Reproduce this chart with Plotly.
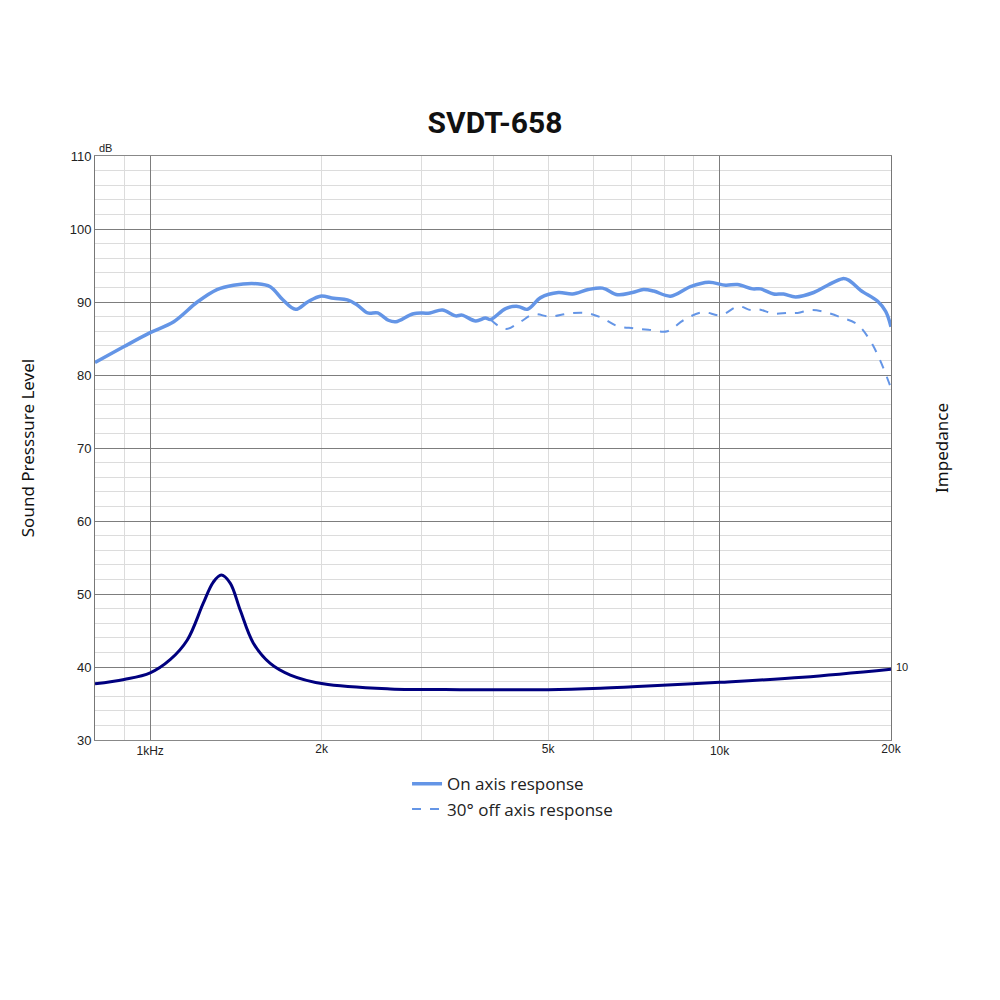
import numpy as np
import plotly.graph_objects as go

# on axis response (Hz, dB)
on_freq = [800, 900, 1000, 1100, 1210, 1310, 1400, 1540, 1625, 1710, 1800, 1890,
           1990, 2100, 2220, 2310, 2410, 2510, 2620, 2700, 2900, 3100, 3260, 3440,
           3530, 3730, 3880, 3960, 4210, 4420, 4600, 4850, 5210, 5520, 5880, 6230,
           6620, 7030, 7350, 7660, 8200, 8890, 9570, 10250, 10750, 11430, 11800,
           12440, 12950, 13600, 14630, 15480, 16450, 16850, 17690, 18950, 19580, 20000]
on_spl = [81.7, 83.9, 85.8, 87.3, 90.0, 91.7, 92.3, 92.5, 92.1, 90.3, 89.0, 90.0,
          90.8, 90.5, 90.3, 89.6, 88.5, 88.5, 87.5, 87.3, 88.4, 88.5, 88.9, 88.1,
          88.2, 87.4, 87.8, 87.6, 89.1, 89.4, 89.0, 90.6, 91.3, 91.1, 91.7, 91.9,
          91.0, 91.3, 91.7, 91.5, 90.8, 92.1, 92.7, 92.3, 92.4, 91.8, 91.8,
          91.1, 91.1, 90.7, 91.3, 92.3, 93.2, 93.0, 91.6, 90.1, 88.7, 86.6]

# 30 deg off axis (only where it leaves the on axis curve)
off_freq = [3960, 4210, 4470, 4710, 5050, 5410, 5810, 6180, 6620, 7060, 7500, 8100,
            8640, 9340, 10040, 10800, 11340, 11710, 12440, 13170, 13710, 14450,
            15170, 16320, 17480, 18420, 19190, 20000]
off_spl = [87.6, 86.3, 87.3, 88.3, 88.0, 88.4, 88.5, 87.9, 86.7, 86.4, 86.2, 86.0,
           87.5, 88.6, 88.2, 89.4, 88.9, 89.0, 88.4, 88.5, 88.5, 88.9,
           88.7, 87.9, 86.9, 84.6, 81.8, 78.2]

# impedance (ohm)
imp_freq = [800, 900, 1000, 1084, 1162, 1239, 1290, 1333, 1382, 1439, 1517, 1625,
            1763, 2013, 2640, 3500, 5000, 6180, 7030, 10000, 14000, 20000]
imp_ohm = [7.7, 8.3, 9.2, 11.0, 13.7, 18.7, 21.6, 22.6, 21.5, 17.8, 13.3, 10.5,
           8.9, 7.7, 7.0, 6.9, 6.9, 7.1, 7.3, 7.9, 8.6, 9.7]

x_major = [1000, 10000]
x_major_text = ["1kHz", "10k"]
x_minor = [900, 2000, 3000, 4000, 5000, 6000, 7000, 8000, 9000]
x_extra = [2000, 5000, 20000]
x_extra_text = ["2k", "5k", "20k"]

blue = "#6495e6"
navy = "#00007f"
dark_grid = "#7d7d7d"
light_grid = "#dcdcdc"
xr = [np.log10(800), np.log10(20000)]

fig = go.Figure()
fig.add_trace(go.Scatter(x=on_freq, y=on_spl, name="On axis response",
                         mode="lines", line=dict(color=blue, width=3.5, shape="spline")))
fig.add_trace(go.Scatter(x=off_freq, y=off_spl, name="30\u00b0 off axis response",
                         mode="lines", line=dict(color=blue, width=2, dash="dash", shape="spline")))
fig.add_trace(go.Scatter(x=imp_freq, y=imp_ohm, name="Impedance", showlegend=False,
                         xaxis="x2", yaxis="y2",
                         mode="lines", line=dict(color=navy, width=3, shape="spline")))

tick_font = dict(family="Liberation Sans", size=12, color="#222")

fig.update_layout(
    width=1000, height=1000,
    margin=dict(l=87, r=117, t=148, b=268),
    paper_bgcolor="white", plot_bgcolor="white",
    title=dict(text="<b>SVDT-658</b>", x=0.487, xanchor="center",
               y=0.886, yanchor="middle", yref="container",
               font=dict(family="Roboto", size=30, color="#111")),
    xaxis=dict(type="log", range=xr, tickvals=x_major, ticktext=x_major_text,
               showgrid=True, gridcolor=dark_grid, gridwidth=1,
               minor=dict(tickvals=x_minor, showgrid=True, gridcolor=light_grid, ticks=""),
               showline=True, linecolor="#888", mirror=True, ticks="",
               tickfont=tick_font, zeroline=False),
    xaxis2=dict(type="log", range=xr, overlaying="x", anchor="y2", side="bottom",
                tickvals=x_extra, ticktext=x_extra_text, showgrid=False, ticks="",
                tickfont=tick_font, showline=False, zeroline=False),
    yaxis=dict(range=[30, 110], tickvals=list(range(30, 111, 10)),
               showgrid=True, gridcolor=dark_grid, gridwidth=1,
               minor=dict(dtick=2, showgrid=True, gridcolor=light_grid, ticks=""),
               showline=True, linecolor="#777", mirror=True, ticks="",
               tickfont=dict(family="Liberation Sans", size=13, color="#222"),
               zeroline=False,
               title=dict(text="Sound Presssure Level", standoff=30,
                          font=dict(family="Noto Sans", size=17, color="#111"))),
    yaxis2=dict(range=[0, 80], overlaying="y", side="right", anchor="x2",
                tickvals=[10], ticktext=["10"], showgrid=False, ticks="",
                ticklabelstandoff=4,
                tickfont=dict(family="Liberation Sans", size=11, color="#222"),
                zeroline=False,
                title=dict(text="Impedance", standoff=28,
                           font=dict(family="Noto Sans", size=17, color="#111"))),
    legend=dict(x=0.392, y=-0.045, xanchor="left", yanchor="top",
                orientation="v", itemwidth=30, tracegroupgap=0,
                font=dict(family="Open Sans", size=17, color="#222")),
    annotations=[dict(text="dB", xref="paper", yref="paper", x=0.002, y=1.0,
                      xanchor="left", yanchor="bottom", showarrow=False,
                      font=dict(family="Liberation Sans", size=11, color="#222"))],
)

fig.write_html("out.html")
